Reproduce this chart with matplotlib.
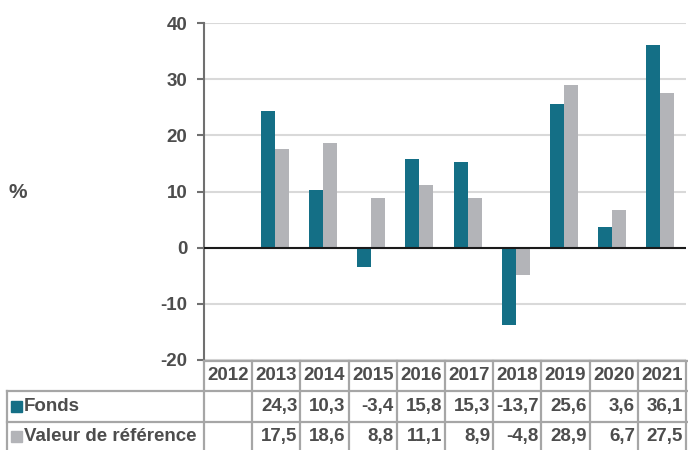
import matplotlib.pyplot as plt
from matplotlib.transforms import blended_transform_factory
from matplotlib.lines import Line2D
from matplotlib.patches import Rectangle

years = ["2012", "2013", "2014", "2015", "2016", "2017", "2018", "2019", "2020", "2021"]
fonds = [None, 24.3, 10.3, -3.4, 15.8, 15.3, -13.7, 25.6, 3.6, 36.1]
reference = [None, 17.5, 18.6, 8.8, 11.1, 8.9, -4.8, 28.9, 6.7, 27.5]
series_names = ["Fonds", "Valeur de référence"]

teal = "#146F86"
grey = "#B3B4B8"
txt = "#4D4D4D"
line_c = "#A6A6A6"

plt.rcParams['font.family'] = ['Liberation Sans', 'DejaVu Sans']
plt.rcParams['font.weight'] = 'bold'
plt.rcParams['axes.unicode_minus'] = False

FS = 13.5

W, H = 688, 450
fig = plt.figure(figsize=(W / 100, H / 100), dpi=100)
ax_l, ax_r, ax_t, ax_b = 204, 686, 23, 360
ax = fig.add_axes([ax_l / W, 1 - ax_b / H, (ax_r - ax_l) / W, (ax_b - ax_t) / H])

bw = 0.29
x = list(range(len(years)))
for i in x:
    if fonds[i] is not None:
        ax.bar(i - bw / 2 - 0.03, fonds[i], width=bw, color=teal, zorder=3)
    if reference[i] is not None:
        ax.bar(i + bw / 2 - 0.03, reference[i], width=bw, color=grey, zorder=3)

ax.set_xlim(-0.5, len(years) - 0.5)
ax.set_ylim(-20, 40)
ax.set_yticks(range(-20, 41, 10))
ax.yaxis.grid(True, color="#D9D9D9", linewidth=1.5, zorder=0)
ax.axhline(0, color="#1A1A1A", linewidth=1.5, zorder=4)
ax.set_xticks([])
for s in ["top", "right", "bottom"]:
    ax.spines[s].set_visible(False)
ax.spines["left"].set_color("#707070")
ax.spines["left"].set_linewidth(1.5)
ax.tick_params(axis="y", length=5, width=1.5, color="#707070", pad=7,
               labelsize=FS, labelcolor=txt)
for lab in ax.get_yticklabels():
    lab.set_fontweight("bold")

fig.text(18 / W, 1 - 193 / H, "%", fontsize=15, color=txt, fontweight="bold",
         ha="center", va="center")

# table below the axes
tr = blended_transform_factory(ax.transData, fig.transFigure)
ftr = fig.transFigure


def fy(py):
    return 1 - py / H


row_top = [361, 391, 422]
row_bot = 453
left_x = 7 / W

# horizontal lines
fig.add_artist(Line2D([ax_l / W, 1], [fy(361), fy(361)], color=line_c, lw=1.6, transform=ftr))
for py in (391, 422):
    fig.add_artist(Line2D([left_x, 1], [fy(py), fy(py)], color=line_c, lw=1.6, transform=ftr))
# vertical lines
fig.add_artist(Line2D([left_x, left_x], [fy(391), fy(row_bot)], color=line_c, lw=1.6, transform=ftr))
for i in range(len(years) + 1):
    fig.add_artist(Line2D([i - 0.5, i - 0.5], [fy(361), fy(row_bot)], color=line_c,
                          lw=1.6, transform=tr, clip_on=False))

centers = [(row_top[0] + row_top[1]) / 2, (row_top[1] + row_top[2]) / 2,
           (row_top[2] + row_bot) / 2 - 1]

for i, yr in enumerate(years):
    fig.text(i, fy(centers[0]), yr, transform=tr, ha="center", va="center",
             fontsize=FS, color=txt, fontweight="bold")


def fmt(v):
    return "" if v is None else f"{v:.1f}".replace(".", ",")


for r, vals in enumerate([fonds, reference]):
    for i, v in enumerate(vals):
        fig.text(i + 0.44, fy(centers[r + 1]), fmt(v), transform=tr, ha="right",
                 va="center", fontsize=FS, color=txt, fontweight="bold")

for r, (name, col) in enumerate(zip(series_names, [teal, grey])):
    cy = centers[r + 1]
    fig.add_artist(Rectangle((11 / W, fy(cy + 5)), 11 / H * H / W, 11 / H, color=col,
                             transform=ftr))
    fig.text(24 / W, fy(cy), name, ha="left", va="center", fontsize=FS, color=txt,
             fontweight="bold")

fig.savefig("out.png", dpi=100)
